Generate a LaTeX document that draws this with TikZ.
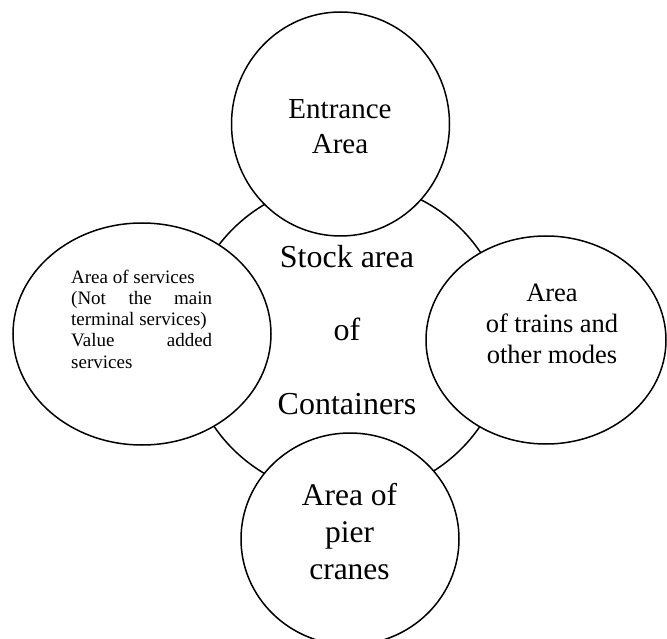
\documentclass[tikz,border=0pt]{standalone}
\usepackage{fontspec}
\setmainfont{Liberation Serif}
\usetikzlibrary{shapes.geometric}
\newcommand{\fullline}[1]{\makebox[141pt][s]{#1}}
\begin{document}
\begin{tikzpicture}[x=1pt,y=-1pt,
  area/.style={ellipse,draw=black,fill=white,line width=1.5pt,inner sep=0pt},
  label/.style={anchor=base,align=center,inner sep=0pt}]
\useasboundingbox (0,0) rectangle (667,639);
\begin{scope}
\clip (0,0) rectangle (667,639);
% stock area in the middle, the four areas drawn over it
\node[area,minimum width=320pt,minimum height=314pt] (stock) at (347,339) {};
\node[area,minimum width=218pt,minimum height=224pt] (entrance) at (340.5,124) {};
\node[area,minimum width=258pt,minimum height=222pt] (services) at (142,334) {};
\node[area,minimum width=240pt,minimum height=208pt] (trains) at (546,340) {};
\node[area,minimum width=218pt,minimum height=212pt] (cranes) at (350,539) {};
\end{scope}
% texts (each node sits on the baseline of its last line)
\node[label,font=\fontsize{29}{35}\selectfont] (tEntrance) at (340,154) {Entrance\\Area};
\node[label,font=\fontsize{32}{73.5}\selectfont] (tStock) at (347,414) {Stock area\\of\\Containers};
\node[label,font=\fontsize{26.5}{31}\selectfont] (tTrains) at (552,363.3) {Area\\of trains and\\other modes};
\node[label,font=\fontsize{31.5}{37}\selectfont] (tCranes) at (349.5,579) {Area of\\pier\\cranes};
\node[anchor=base west,inner sep=0pt,align=left,
      font=\fontsize{19}{21.2}\selectfont] (tServices) at (71,368)
  {Area of services\\\fullline{(Not the main}\\terminal services)\\\fullline{Value added}\\services};
\end{tikzpicture}
\end{document}
